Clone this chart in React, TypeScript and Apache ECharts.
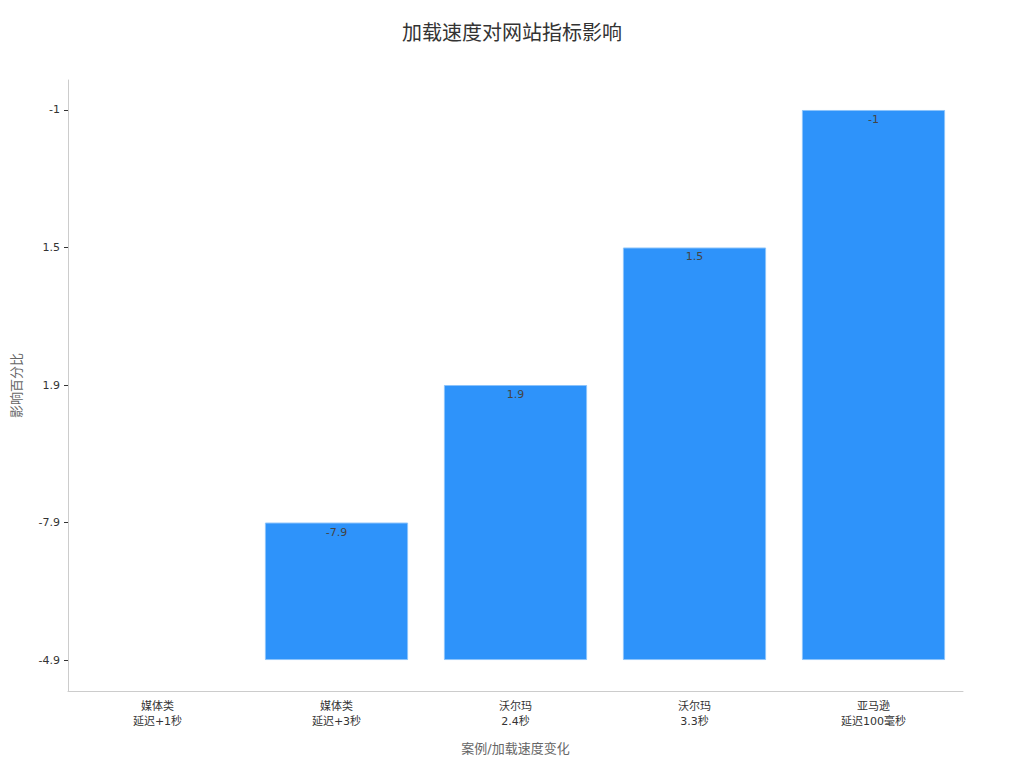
import * as echarts from 'echarts';
import React, { useEffect, useRef } from 'react';

// x categories (cases) and the y category labels, bottom to top
const categories = ['媒体类\n延迟+1秒', '媒体类\n延迟+3秒', '沃尔玛\n2.4秒', '沃尔玛\n3.3秒', '亚马逊\n延迟100毫秒'];
const yLabels = ['-4.9', '-7.9', '1.9', '1.5', '-1'];
const values = ['-4.9', '-7.9', '1.9', '1.5', '-1'];

const App: React.FC = () => {
  const chartRef = useRef<HTMLDivElement>(null);

  useEffect(() => {
    const chart = echarts.init(chartRef.current!, null, { renderer: 'svg' });
    const ticks = yLabels.map((_, i) => i);

    chart.setOption({
      animation: false,
      textStyle: { fontFamily: '"DejaVu Sans", "Noto Sans CJK SC", sans-serif' },
      title: {
        text: '加载速度对网站指标影响',
        left: 'center',
        top: 10,
        textStyle: { fontSize: 20, fontWeight: 'normal', color: '#333' },
      },
      grid: { left: 60, right: 53, top: 72, bottom: 69, outerBoundsMode: 'none' },
      xAxis: {
        type: 'category',
        data: categories,
        name: '案例/加载速度变化',
        nameLocation: 'middle',
        nameGap: 51,
        nameTextStyle: { fontSize: 13, color: '#666' },
        axisLine: { onZero: false, lineStyle: { color: '#ccc' } },
        axisTick: { alignWithLabel: true, length: 4, lineStyle: { color: '#333' } },
        axisLabel: { color: '#333', fontSize: 11, lineHeight: 15, margin: 8 },
      },
      yAxis: {
        type: 'value',
        min: -0.225,
        max: 4.218,
        name: '影响百分比',
        nameLocation: 'middle',
        nameGap: 45,
        nameTextStyle: { fontSize: 13, color: '#666' },
        splitLine: { show: false },
        axisLine: { show: true, lineStyle: { color: '#ccc' } },
        axisTick: { show: true, length: 4, customValues: ticks, lineStyle: { color: '#333' } },
        axisLabel: {
          color: '#333',
          fontSize: 11,
          margin: 8,
          customValues: ticks,
          formatter: (v: number) => yLabels[Math.round(v)] ?? '',
        },
      },
      series: [
        {
          type: 'bar',
          data: values.map((v) => {
            const idx = yLabels.indexOf(v);
            return idx === 0 ? { value: idx, itemStyle: { borderWidth: 0 } } : idx;
          }),
          barWidth: '80%',
          itemStyle: { color: '#2E93FA', borderColor: '#8cc4fb', borderWidth: 1 },
          label: {
            show: true,
            position: 'insideTop',
            distance: 4,
            color: '#444',
            fontSize: 11,
            formatter: (p: any) => (p.value === 0 ? '' : values[p.dataIndex]),
          },
        },
      ],
    });

    return () => {
      chart.dispose();
    };
  }, []);

  return <div ref={chartRef} style={{ width: '1008px', height: '752px' }} />;
};

export default App;
